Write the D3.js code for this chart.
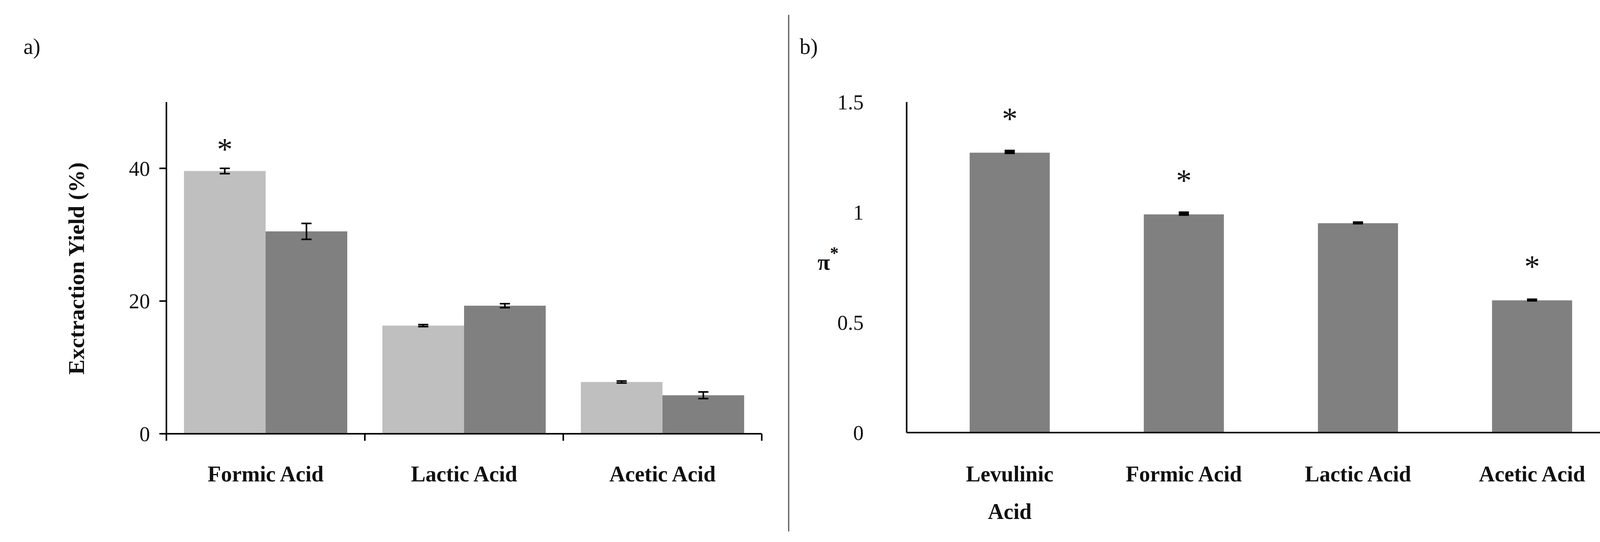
<!DOCTYPE html>
<html><head><meta charset="utf-8">
<script src="https://cdn.jsdelivr.net/npm/d3@7"></script>
<style>body{margin:0;background:#fff}text{font-family:"Liberation Serif",serif;fill:#111}</style>
</head><body><svg id="chart" width="4308" height="1387"></svg>
<script>
// panel a data
const acidsA = ["Formic Acid", "Lactic Acid", "Acetic Acid"]
const seriesA = ["light", "dark"]
const yieldLight = [39.6, 16.3, 7.8]
const yieldDark = [30.5, 19.3, 5.8]
const errLight = [0.4, 0.15, 0.15]
const errDark = [1.2, 0.3, 0.5]
const starsA = [true, false, false]
const ticksA = [0, 20, 40]

// panel b data
const acidsB = ["Levulinic Acid", "Formic Acid", "Lactic Acid", "Acetic Acid"]
const piStar = [1.27, 0.99, 0.95, 0.60]
const errB = [0.01, 0.01, 0.005, 0.005]
const starsB = [true, true, false, true]
const ticksB = [0, 0.5, 1, 1.5]

const colors = {light: "#bfbfbf", dark: "#808080"}
const svg = d3.select("#chart")

// ---- panel a
const a = {left: 426, right: 1950, top: 261, bottom: 1110}
const xA = d3.scaleBand().domain(acidsA).range([a.left, a.right])
const xA2 = d3.scaleBand().domain(seriesA).range([0, xA.bandwidth()]).paddingInner(0).paddingOuter(0.215)
const yA = d3.scaleLinear().domain([0, 50]).range([a.bottom, a.top])

const rowsA = acidsA.map((c, i) => ({cat: c, star: starsA[i], vals: [
    {s: "light", v: yieldLight[i], e: errLight[i]},
    {s: "dark", v: yieldDark[i], e: errDark[i]}]}))

const gA = svg.append("g")
const groups = gA.selectAll(".grp").data(rowsA).join("g")
    .attr("transform", d => `translate(${xA(d.cat)},0)`)
groups.selectAll("rect").data(d => d.vals).join("rect")
    .attr("x", d => xA2(d.s))
    .attr("width", xA2.bandwidth())
    .attr("y", d => yA(d.v))
    .attr("height", d => yA(0) - yA(d.v))
    .attr("fill", d => colors[d.s])
const eb = groups.selectAll(".eb").data(d => d.vals).join("g")
    .attr("transform", d => `translate(${xA2(d.s) + xA2.bandwidth() / 2},0)`)
    .attr("stroke", "#000").attr("stroke-width", 4)
eb.append("line").attr("y1", d => yA(d.v - d.e)).attr("y2", d => yA(d.v + d.e))
eb.append("line").attr("x1", -13).attr("x2", 13).attr("y1", d => yA(d.v - d.e)).attr("y2", d => yA(d.v - d.e))
eb.append("line").attr("x1", -13).attr("x2", 13).attr("y1", d => yA(d.v + d.e)).attr("y2", d => yA(d.v + d.e))
groups.filter(d => d.star).append("text")
    .attr("x", xA2("light") + xA2.bandwidth() / 2)
    .attr("y", d => yA(d.vals[0].v + d.vals[0].e) - 22)
    .attr("text-anchor", "middle").attr("font-size", 80).text("*")

// axes a
gA.append("line").attr("x1", a.left).attr("x2", a.left).attr("y1", a.top).attr("y2", a.bottom + 18)
    .attr("stroke", "#000").attr("stroke-width", 4)
gA.append("line").attr("x1", a.left).attr("x2", a.right).attr("y1", a.bottom).attr("y2", a.bottom)
    .attr("stroke", "#000").attr("stroke-width", 4)
gA.selectAll(".sep").data(acidsA.slice(1).concat([null])).join("line")
    .attr("x1", d => d ? xA(d) : a.right).attr("x2", d => d ? xA(d) : a.right)
    .attr("y1", a.bottom).attr("y2", a.bottom + 18).attr("stroke", "#000").attr("stroke-width", 4)
gA.selectAll(".ytk").data(ticksA).join("line")
    .attr("x1", a.left - 18).attr("x2", a.left).attr("y1", d => yA(d)).attr("y2", d => yA(d))
    .attr("stroke", "#000").attr("stroke-width", 4)
gA.selectAll(".ytl").data(ticksA).join("text")
    .attr("x", a.left - 42).attr("y", d => yA(d)).attr("dy", "0.35em")
    .attr("text-anchor", "end").attr("font-size", 54).text(d => d)
gA.selectAll(".xl").data(acidsA).join("text")
    .attr("x", d => xA(d) + xA.bandwidth() / 2).attr("y", 1232)
    .attr("text-anchor", "middle").attr("font-size", 56).attr("font-weight", "bold").text(d => d)
gA.append("text").attr("transform", "translate(215,687) rotate(-90)")
    .attr("text-anchor", "middle").attr("font-size", 58).attr("font-weight", "bold")
    .text("Exctraction Yield (%)")
svg.append("text").attr("x", 60).attr("y", 138).attr("font-size", 56).text("a)")

// divider
svg.append("line").attr("x1", 2019).attr("x2", 2019).attr("y1", 38).attr("y2", 1360)
    .attr("stroke", "#555").attr("stroke-width", 3)

// ---- panel b
const b = {left: 2321, right: 4209, top: 261, bottom: 1107}
const xB = d3.scaleBand().domain(acidsB).range([2362, 4145]).paddingInner(0.54).paddingOuter(0.27)
const yB = d3.scaleLinear().domain([0, 1.5]).range([b.bottom, b.top])
const rowsB = acidsB.map((c, i) => ({cat: c, v: piStar[i], e: errB[i], star: starsB[i]}))
const gB = svg.append("g")
gB.selectAll("rect").data(rowsB).join("rect")
    .attr("x", d => xB(d.cat)).attr("width", xB.bandwidth())
    .attr("y", d => yB(d.v)).attr("height", d => yB(0) - yB(d.v)).attr("fill", "#808080")
gB.selectAll(".eb").data(rowsB).join("rect")
    .attr("x", d => xB(d.cat) + xB.bandwidth() / 2 - 13).attr("width", 26)
    .attr("y", d => yB(d.v + d.e) - 2).attr("height", d => Math.max(8, yB(d.v - d.e) - yB(d.v + d.e)))
    .attr("fill", "#000")
gB.selectAll(".st").data(rowsB.filter(d => d.star)).join("text")
    .attr("x", d => xB(d.cat) + xB.bandwidth() / 2).attr("y", d => yB(d.v) - 60)
    .attr("text-anchor", "middle").attr("font-size", 80).text("*")
gB.append("line").attr("x1", b.left).attr("x2", b.left).attr("y1", b.top).attr("y2", b.bottom)
    .attr("stroke", "#000").attr("stroke-width", 4)
gB.append("line").attr("x1", b.left).attr("x2", b.right).attr("y1", b.bottom).attr("y2", b.bottom)
    .attr("stroke", "#000").attr("stroke-width", 4)
gB.selectAll(".ytl").data(ticksB).join("text")
    .attr("x", b.left - 110).attr("y", d => yB(d)).attr("dy", "0.35em")
    .attr("text-anchor", "end").attr("font-size", 54).text(d => d)
const xlB = gB.selectAll(".xl").data(acidsB).join("text")
    .attr("x", d => xB(d) + xB.bandwidth() / 2).attr("y", 1232)
    .attr("text-anchor", "middle").attr("font-size", 56).attr("font-weight", "bold")
xlB.each(function(d) {
    const words = d === "Levulinic Acid" ? ["Levulinic", "Acid"] : [d]
    d3.select(this).selectAll("tspan").data(words).join("tspan")
        .attr("x", xB(d) + xB.bandwidth() / 2).attr("dy", (w, i) => i ? 96 : 0).text(w => w)
})
const piLabel = svg.append("text").attr("x", 2093).attr("y", 690).attr("font-size", 58).attr("font-weight", "bold")
piLabel.append("tspan").text("π")
piLabel.append("tspan").attr("dy", -28).attr("font-size", 44).text("*")
svg.append("text").attr("x", 2047).attr("y", 138).attr("font-size", 56).text("b)")
</script></body></html>
